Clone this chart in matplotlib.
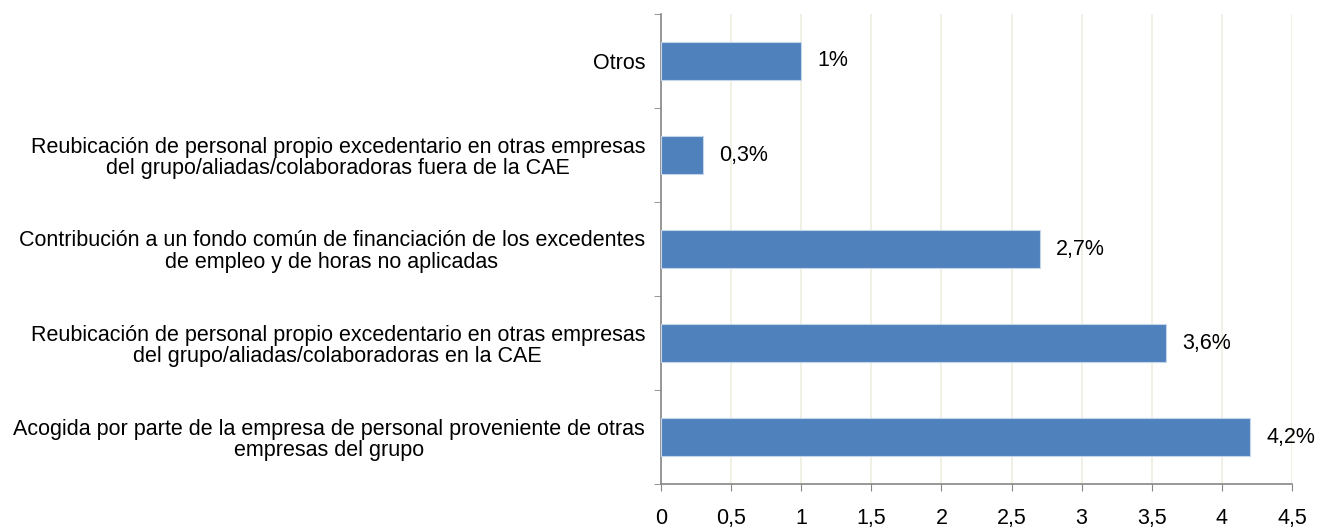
import matplotlib
matplotlib.use("Agg")
import matplotlib.pyplot as plt
import numpy as np

categories = [
    "Acogida por parte de la empresa de personal proveniente de otras\nempresas del grupo",
    "Reubicación de personal propio excedentario en otras empresas\ndel grupo/aliadas/colaboradoras en la CAE",
    "Contribución a un fondo común de financiación de los excedentes\nde empleo y de horas no aplicadas",
    "Reubicación de personal propio excedentario en otras empresas\ndel grupo/aliadas/colaboradoras fuera de la CAE",
    "Otros",
]
values = [4.2, 3.6, 2.7, 0.3, 1.0]
value_labels = ["4,2%", "3,6%", "2,7%", "0,3%", "1%"]
xticks = [0, 0.5, 1, 1.5, 2, 2.5, 3, 3.5, 4, 4.5]
xtick_labels = ["0", "0,5", "1", "1,5", "2", "2,5", "3", "3,5", "4", "4,5"]

plt.rcParams['font.family'] = ['Liberation Sans', 'DejaVu Sans']
FS = 15.5

fig = plt.figure(figsize=(13.18, 5.28), dpi=100)
ax = fig.add_axes([661/1318, 1-484/528, (1292-661)/1318, (484-14)/528])

y = np.arange(len(categories))
ax.barh(y, values, height=0.4, color="#4F81BD", edgecolor="#C5D5EA", linewidth=0.8, zorder=3)
for yi, v, lab in zip(y, values, value_labels):
    ax.text(v + 0.115, yi, lab, va="center", ha="left", fontsize=FS, color="black")

ax.set_xlim(0, 4.5)
ax.set_ylim(-0.5, len(categories) - 0.5)
ax.set_xticks(xticks)
ax.set_xticklabels(xtick_labels, fontsize=FS)
ax.set_yticks(y)
ax.set_yticklabels(categories, fontsize=FS)
for lab in ax.get_yticklabels():
    lab.set_multialignment("center")
    lab.set_linespacing(1.06)
ax.set_yticks(np.arange(-0.5, len(categories)), minor=True)
ax.tick_params(axis="y", which="major", length=0, pad=11.5)
ax.tick_params(axis="y", which="minor", length=5, color="#868686", direction="out")
ax.tick_params(axis="x", which="major", length=5, color="#868686", direction="out", pad=12)

ax.grid(axis="x", color="#EEEDE0", linewidth=1.2, zorder=0)
for s in ["top", "right"]:
    ax.spines[s].set_visible(False)
for s in ["left", "bottom"]:
    ax.spines[s].set_color("#868686")
    ax.spines[s].set_linewidth(1.2)

fig.savefig("out.png", dpi=100)
